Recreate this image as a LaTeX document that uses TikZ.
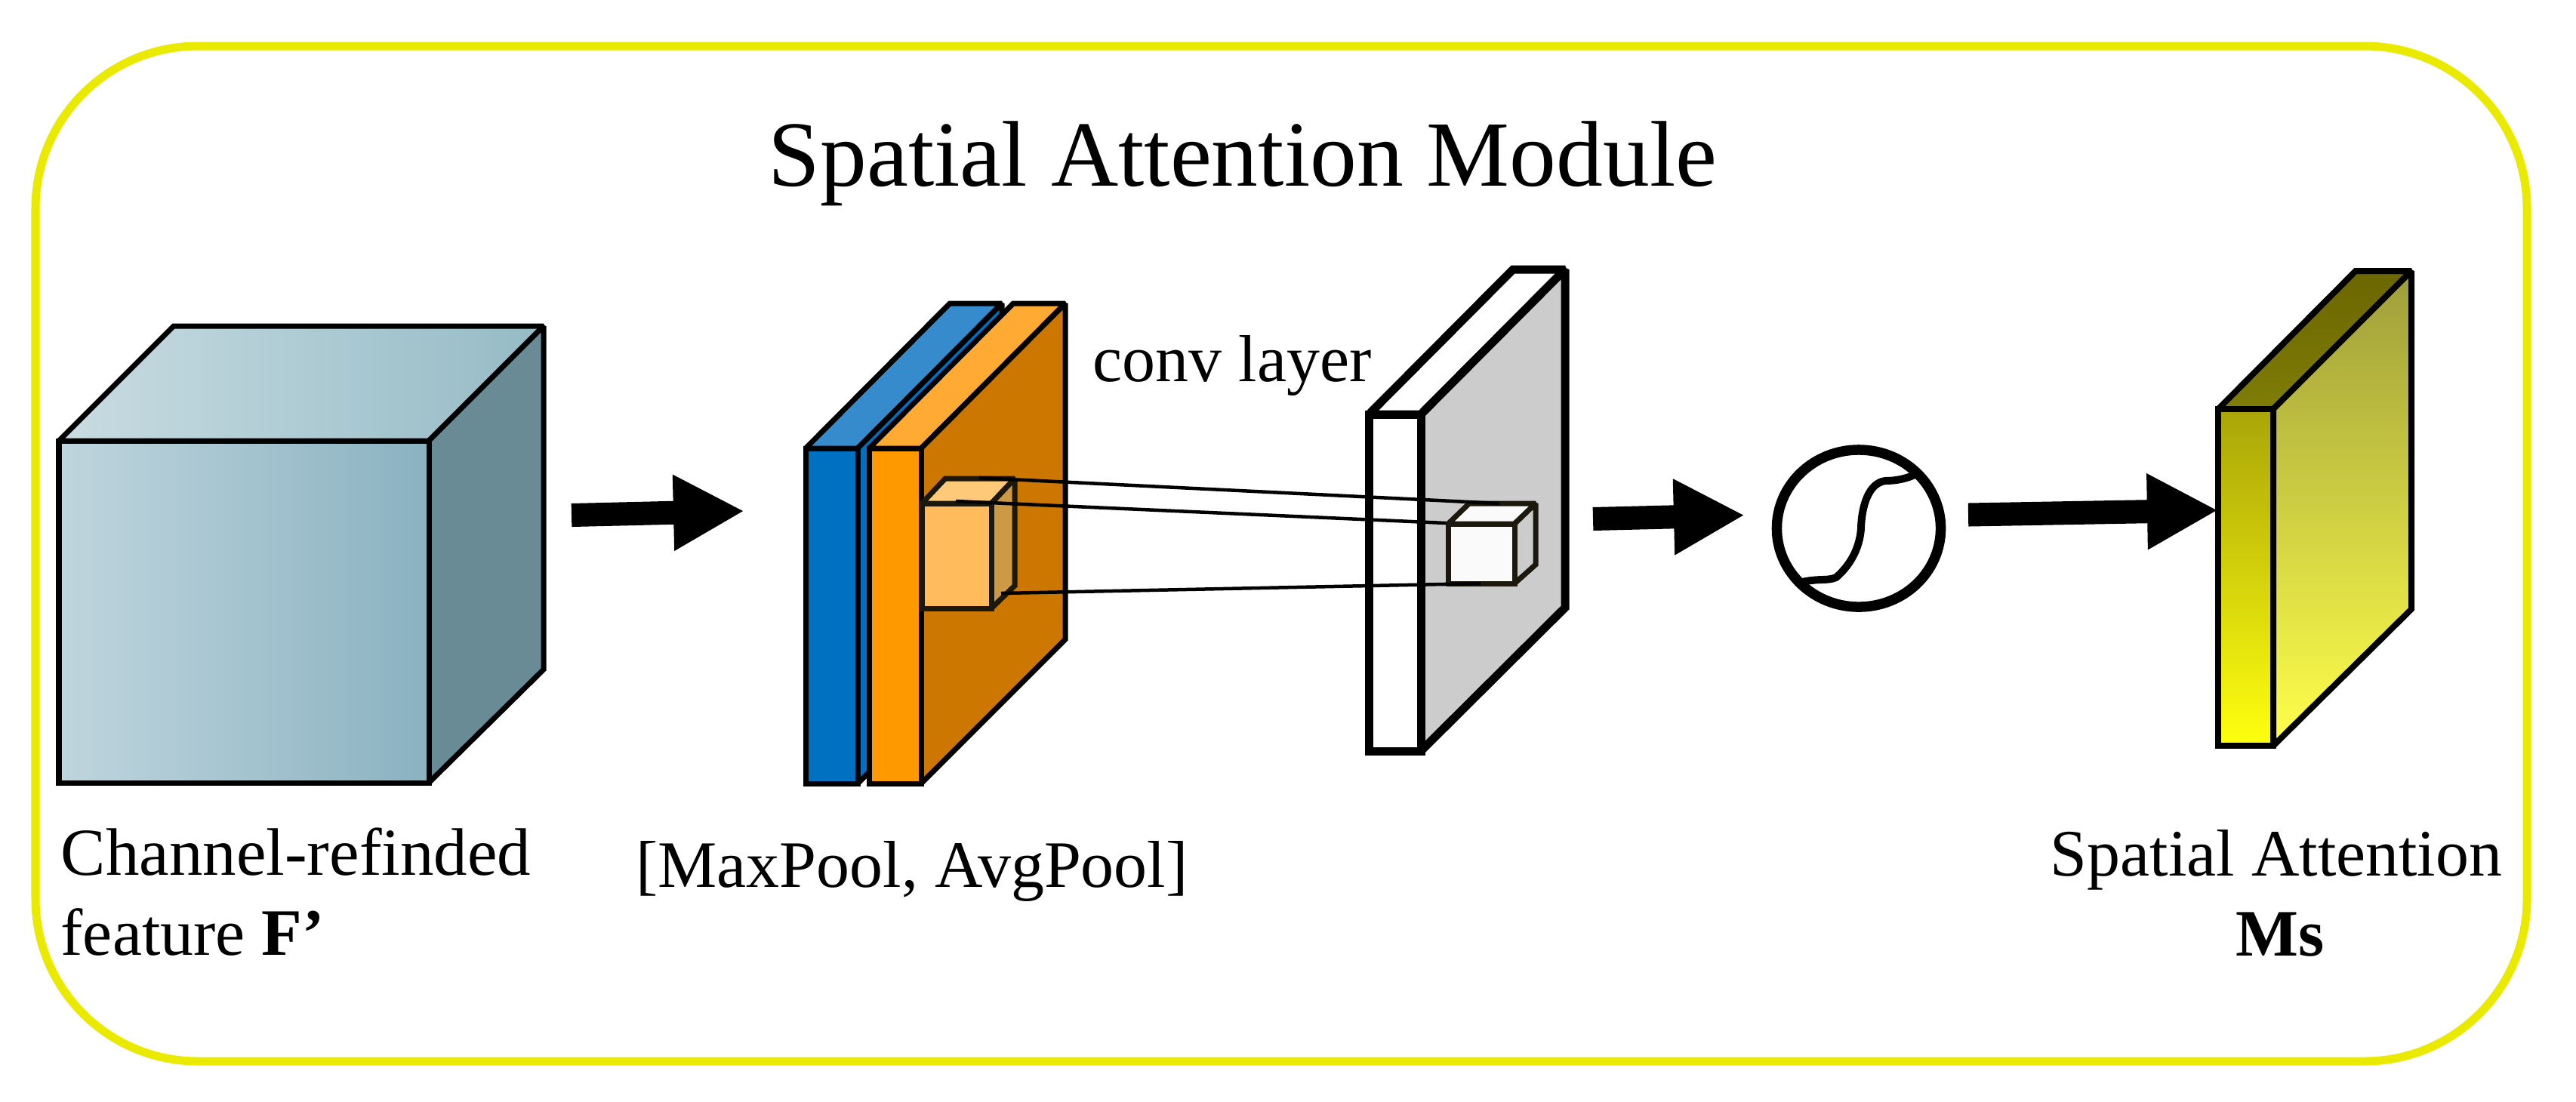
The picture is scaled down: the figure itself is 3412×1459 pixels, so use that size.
\documentclass[tikz,border=0pt]{standalone}
\usepackage{fontspec}
\setmainfont{Liberation Serif}
\usetikzlibrary{arrows.meta, shapes.geometric}
\definecolor{cframe}{HTML}{EAEA00}
\definecolor{cedge}{HTML}{1C180C}
\definecolor{cblue}{HTML}{0070C0}
\definecolor{ctopblue}{HTML}{368BCC}
\definecolor{corange}{HTML}{FF9900}
\definecolor{ctoporange}{HTML}{FFAB33}
\definecolor{csideorange}{HTML}{CC7700}
\definecolor{ckernel}{HTML}{FFBB5C}
\definecolor{ctopkernel}{HTML}{FFC97A}
\definecolor{csidekernel}{HTML}{CC9944}
\definecolor{cgray}{HTML}{CCCCCC}
\definecolor{csoft}{HTML}{FAFAFA}
\definecolor{ccubeside}{HTML}{688B95}
\definecolor{ctopcubeL}{HTML}{C9DCE2}
\definecolor{ctopcubeR}{HTML}{95BBC5}
\definecolor{cfrontcubeL}{HTML}{BFD5DD}
\definecolor{cfrontcubeR}{HTML}{8AB2C1}
\definecolor{cmaptopA}{HTML}{6B6600}
\definecolor{cmaptopB}{HTML}{7F7D08}
\definecolor{cmapsideA}{HTML}{9E9E3B}
\definecolor{cmapsideB}{HTML}{FFFF4B}
\definecolor{cmapfrontA}{HTML}{A9A508}
\definecolor{cmapfrontB}{HTML}{FFFF0F}
\tikzset{
  face/.style={draw=black, line width=0.07cm, line join=miter, miter limit=2},
  convface/.style={draw=black, line width=0.11cm, line join=miter, miter limit=2},
  mapface/.style={draw=black, line width=0.08cm, line join=miter, miter limit=2},
  kernelface/.style={draw=cedge, line width=0.07cm, line join=miter, miter limit=2},
  blockarrow/.style={line width=0.31cm, -{Triangle[length=0.94cm, width=0.94cm]}},
  thinline/.style={black, line width=0.045cm},
  label/.style={font=\fontsize{25}{30}\selectfont, inner sep=0pt, anchor=base}
}

\begin{document}
\begin{tikzpicture}[x=0.01cm, y=-0.01cm]
  \useasboundingbox (0,0) rectangle (3412,1459);
  \draw[cframe, line width=0.11cm, rounded corners=2.15cm] (47,61) rectangle (3347,1406);
  \node[font=\fontsize{35.15}{42}\selectfont, inner sep=0pt, anchor=base] (title) at (1646,246) {Spatial Attention Module};

  % feature cube
  \path[face, left color=ctopcubeL, right color=ctopcubeR] (78,584) -- (230,432) -- (720,432) -- (568,584) -- cycle;
  \filldraw[face, fill=ccubeside] (568,584) -- (720,432) -- (720,887) -- (568,1037) -- cycle;
  \path[face, left color=cfrontcubeL, right color=cfrontcubeR] (78,584) rectangle (568,1037);

  % flat slabs and kernels: x, y, w, h, dx, dy, extra back height, front, top, side, style
  \foreach \n/\x/\y/\w/\h/\dx/\dy/\e/\cf/\ct/\cs/\st in {
    blue/1067/594/69/444/191/-192/1/cblue/ctopblue/cblue/face,
    orange/1151/594/69/444/191/-192/1/corange/ctoporange/csideorange/face,
    conv/1813/549/69/446/191/-192/2/white/white/cgray/convface,
    pool/1221/667/92/139/31/-33/3/ckernel/ctopkernel/csidekernel/kernelface,
    kernel/1918/694/88/79/28/-27/2/csoft/csoft/cgray/kernelface}{
    \coordinate (\n-a) at (\x,\y);
    \coordinate (\n-b) at (\x+\w,\y);
    \coordinate (\n-c) at (\x+\w,\y+\h);
    \filldraw[\st, fill=\ct] (\n-a) -- ++(\dx,\dy) -- ++(\w,0) -- (\n-b) -- cycle;
    \filldraw[\st, fill=\cs] (\n-b) -- ++(\dx,\dy) -- ++(0,\h+\e) -- (\n-c) -- cycle;
    \filldraw[\st, fill=\cf] (\n-a) rectangle (\n-c);
  }

  % kernel projection
  \coordinate (poolA) at (1297,633);
  \coordinate (poolB) at (1266,664);
  \coordinate (poolC) at (1326,786);
  \coordinate (kernelA) at (1986,667);
  \coordinate (kernelB) at (1915,693);
  \coordinate (kernelC) at (1961,773);
  \foreach \s/\e in {poolA/kernelA, poolB/kernelB, poolC/kernelC}{
    \draw[thinline] (\s) -- (\e);
  }

  % sigmoid
  \node[draw=black, line width=0.135cm, ellipse, minimum width=2.17cm, minimum height=2.08cm, inner sep=0pt] (sigmoid) at (2462,700) {};
  \draw[black, line width=0.1cm, line join=round] (2387,771) .. controls (2410,766) and (2420,770) .. (2432,765)
    .. controls (2455,745) and (2464,720) .. (2465,699) .. controls (2466,670) and (2475,640) .. (2497,637)
    .. controls (2512,637) and (2525,634) .. (2536,629);

  % attention map
  \path[mapface, top color=cmaptopA, bottom color=cmaptopB] (2938,542) -- (3120,359) -- (3194,359) -- (3011,542) -- cycle;
  \path[mapface, top color=cmapsideA, bottom color=cmapsideB] (3011,542) -- (3194,359) -- (3194,807) -- (3011,988) -- cycle;
  \path[mapface, top color=cmapfrontA, bottom color=cmapfrontB] (2938,542) rectangle (3011,988);

  % arrows
  \coordinate (arrowA) at (757,682.5);
  \coordinate (arrowB) at (986,677);
  \coordinate (arrowC) at (2110,687.5);
  \coordinate (arrowD) at (2311,682.5);
  \coordinate (arrowE) at (2607,682);
  \coordinate (arrowF) at (2938,676);
  \foreach \s/\e in {arrowA/arrowB, arrowC/arrowD, arrowE/arrowF}{
    \draw[blockarrow] (\s) -- (\e);
  }

  \node[label] (convtext) at (1632,505) {conv layer};
  \node[label, font=\fontsize{25.3}{30}\selectfont, anchor=base west] (feattext) at (80,1159) {Channel-refinded};
  \node[label, anchor=base west] (feattextb) at (80,1265) {feature \textbf{F’}};
  \node[label] (pooltext) at (1208,1175) {[MaxPool, AvgPool]};
  \node[label] (atttext) at (3015,1160) {Spatial Attention};
  \node[label] (atttextb) at (3020,1266) {\textbf{Ms}};
\end{tikzpicture}
\end{document}
